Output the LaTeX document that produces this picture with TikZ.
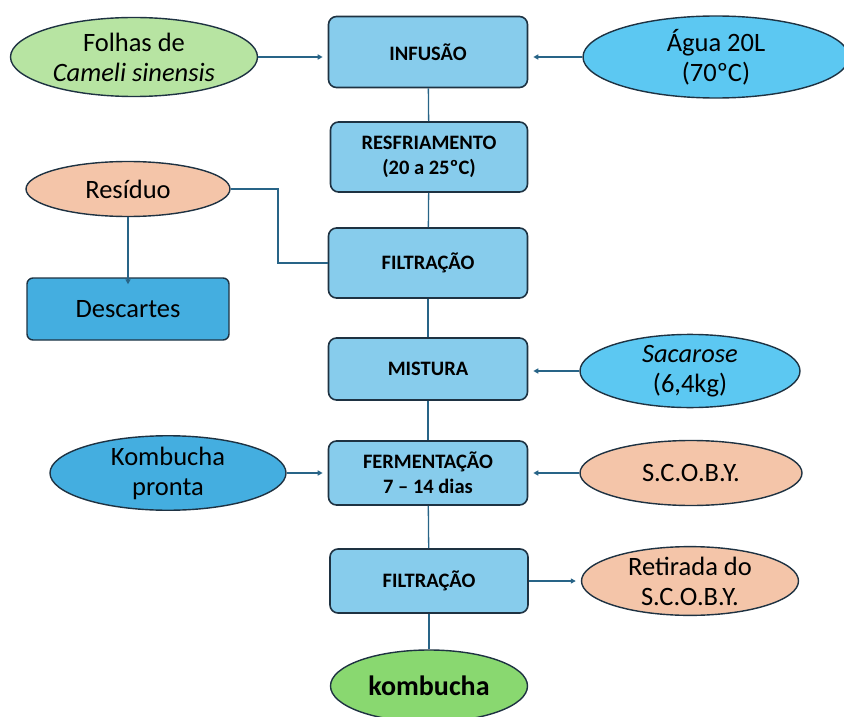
\documentclass[tikz,border=0pt]{standalone}
\usepackage{fontspec}
\setmainfont{Carlito}
\usetikzlibrary{shapes.geometric,arrows.meta}
\definecolor{boxfill}{RGB}{135,204,236}
\definecolor{edge}{RGB}{30,50,66}
\definecolor{conn}{RGB}{40,100,135}
\definecolor{leafgreen}{RGB}{183,228,162}
\definecolor{waterblue}{RGB}{92,200,242}
\definecolor{peach}{RGB}{244,197,169}
\definecolor{midblue}{RGB}{68,174,224}
\definecolor{kgreen}{RGB}{137,216,112}
\tikzset{
  stepbox/.style={draw=edge, line width=1.6pt, fill=boxfill, rounded corners=8pt,
    minimum width=199pt, minimum height=66pt, align=center, font=\fontsize{20.5}{25}\selectfont\bfseries, inner sep=2pt},
  oval/.style={draw=edge, line width=1.4pt, ellipse, inner sep=0pt, align=center,
    font=\fontsize{26.5}{30}\selectfont},
  conline/.style={draw=conn, line width=1.3pt},
  conarrow/.style={conline, -{Triangle[length=5pt,width=5pt]}},
}
\begin{document}
\begin{tikzpicture}[x=1pt,y=-1pt]
\useasboundingbox (0,0) rectangle (844,717);
% main column
\node[stepbox, minimum height=71pt] (inf) at (428,52) {INFUSÃO};
\node[stepbox, minimum height=70pt, minimum width=197pt] (res) at (429,157) {RESFRIAMENTO\\(20 a 25ºC)};
\node[stepbox, minimum height=70pt] (fil1) at (428,263) {FILTRAÇÃO};
\node[stepbox, minimum height=62pt] (mis) at (428,369) {MISTURA};
\node[stepbox, minimum height=64pt] (fer) at (428,473) {FERMENTAÇÃO\\7 – 14 dias};
\node[stepbox, minimum height=64pt, minimum width=198pt] (fil2) at (429,581) {FILTRAÇÃO};
\node[oval, fill=kgreen, minimum width=197pt, minimum height=72pt, font=\fontsize{28}{30}\selectfont\bfseries] (kom) at (429,686) {kombucha};
% side nodes
\node[oval, fill=leafgreen, minimum width=247pt, minimum height=79pt] (fol) at (134,57) {Folhas de\\\itshape Cameli sinensis};
\node[oval, fill=waterblue, minimum width=266pt, minimum height=82pt] (agua) at (716,57) {Água 20L\\(70ºC)};
\node[oval, fill=peach, minimum width=204pt, minimum height=55pt] (resid) at (128,189) {Resíduo};
\node[draw=edge, line width=1.4pt, fill=midblue, rounded corners=6pt, minimum width=202pt, minimum height=62pt, font=\fontsize{26.5}{30}\selectfont] (desc) at (128,309) {Descartes};
\node[oval, fill=waterblue, minimum width=220pt, minimum height=63pt] (sac) at (690,371) {\itshape Sacarose\\(6,4kg)};
\node[oval, fill=midblue, minimum width=236pt, minimum height=74pt] (kp) at (168,473) {Kombucha\\pronta};
\node[oval, fill=peach, minimum width=222pt, minimum height=65pt] (scoby) at (691,473) {S.C.O.B.Y.};
\node[oval, fill=peach, minimum width=217pt, minimum height=66pt] (ret) at (690,581) {Retirada do\\S.C.O.B.Y.};
% vertical connectors
\draw[conline] (inf) -- (res);
\draw[conline] (res) -- (fil1);
\draw[conline] (fil1) -- (mis);
\draw[conline] (mis) -- (fer);
\draw[conline] (fer) -- (fil2);
\draw[conline] (fil2) -- (kom);
% side arrows
\draw[conarrow] (fol.east) -- ([xshift=-5pt]inf.west |- fol.east);
\draw[conarrow] (agua.west) -- ([xshift=5pt]inf.east |- agua.west);
\draw[conline] (fil1.west) -| (278,189) -- (resid.east);
\draw[conarrow] (resid.south) -- ([yshift=-7pt]desc.north);
\draw[conarrow] (sac.west) -- ([xshift=5pt]mis.east |- sac.west);
\draw[conarrow] (kp.east) -- ([xshift=-5pt]fer.west |- kp.east);
\draw[conarrow] (scoby.west) -- ([xshift=5pt]fer.east |- scoby.west);
\draw[conarrow] (fil2.east) -- ([xshift=-5pt]ret.west |- fil2.east);
\end{tikzpicture}
\end{document}
